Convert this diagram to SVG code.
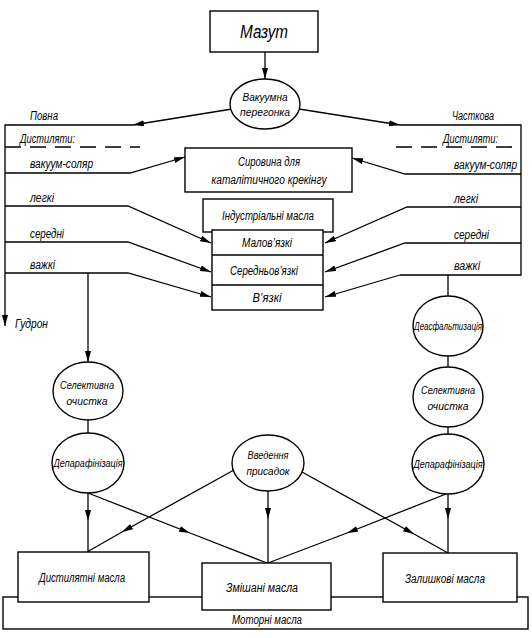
<svg xmlns="http://www.w3.org/2000/svg" width="532" height="638" viewBox="0 0 532 638">
<style>
.ln{fill:none;stroke:#000;stroke-width:1.3}
.bx{fill:#fff;stroke:#000;stroke-width:1.4}
.t{font-family:"Liberation Sans",Arial,sans-serif;font-style:italic;font-size:12px;fill:#000}
.s{font-size:11px}
.c{text-anchor:middle}
.dash{fill:none;stroke:#000;stroke-width:1.6;stroke-dasharray:16 9}
</style>
<defs>
<marker id="ar" markerUnits="userSpaceOnUse" markerWidth="12" markerHeight="8" refX="11" refY="3" orient="auto">
<path d="M0,0 L11,3 L0,6 z" fill="#000"/>
</marker>
</defs>
<rect width="532" height="638" fill="#fff"/>

<g id="connectors">
<line class="ln" x1="265" y1="52" x2="265" y2="79" marker-end="url(#ar)"/>
<polyline class="ln" points="133,125 5,125 5,326" marker-end="url(#ar)"/>
<line class="ln" x1="232" y1="109" x2="133" y2="125" marker-end="url(#ar)"/>
<polyline class="ln" points="400,125 521,125 521,275 400,275"/>
<line class="ln" x1="299" y1="109" x2="400" y2="125" marker-end="url(#ar)"/>
<path class="dash" d="M5,147 H140"/>
<path class="dash" d="M396,147 H521"/>
<polyline class="ln" points="5,173 130,173 185,157" marker-end="url(#ar)"/>
<polyline class="ln" points="5,206 128,206 211,243" marker-end="url(#ar)"/>
<polyline class="ln" points="5,242 128,242 211,272" marker-end="url(#ar)"/>
<polyline class="ln" points="5,273 128,273 211,297" marker-end="url(#ar)"/>
<polyline class="ln" points="521,174 405,174 352,158" marker-end="url(#ar)"/>
<polyline class="ln" points="521,207 407,207 325,243" marker-end="url(#ar)"/>
<polyline class="ln" points="521,243 405,243 325,272" marker-end="url(#ar)"/>
<polyline class="ln" points="400,275 325,297" marker-end="url(#ar)"/>
<line class="ln" x1="88" y1="273" x2="88" y2="362" marker-end="url(#ar)"/>
<line class="ln" x1="88" y1="420" x2="88" y2="433"/>
<line class="ln" x1="448" y1="275" x2="448" y2="296"/>
<line class="ln" x1="448" y1="356" x2="448" y2="367"/>
<line class="ln" x1="448" y1="427" x2="448" y2="434"/>
<polyline class="ln" points="88,493 88,521 88,552" marker-mid="url(#ar)"/>
<polyline class="ln" points="88,493 190,533 267,563" marker-mid="url(#ar)"/>
<polyline class="ln" points="234,470 122,532 87,552" marker-mid="url(#ar)"/>
<polyline class="ln" points="268,491 268,519 268,563" marker-mid="url(#ar)"/>
<polyline class="ln" points="302,472 414,534 448,553" marker-mid="url(#ar)"/>
<polyline class="ln" points="448,494 448,519 448,553" marker-mid="url(#ar)"/>
<polyline class="ln" points="446,494 347,533 268,563" marker-mid="url(#ar)"/>
</g>

<g id="labels">
<text class="t" x="30" y="120" textLength="28" lengthAdjust="spacingAndGlyphs">Повна</text>
<text class="t" x="452" y="120" textLength="42" lengthAdjust="spacingAndGlyphs">Часткова</text>
<text class="t" x="20" y="143" textLength="55" lengthAdjust="spacingAndGlyphs">Дистиляти:</text>
<text class="t" x="443" y="143" textLength="55" lengthAdjust="spacingAndGlyphs">Дистиляти:</text>
<text class="t" x="30" y="168" textLength="63" lengthAdjust="spacingAndGlyphs">вакуум-соляр</text>
<text class="t" x="454" y="169" textLength="63" lengthAdjust="spacingAndGlyphs">вакуум-соляр</text>
<text class="t" x="30" y="202" textLength="24" lengthAdjust="spacingAndGlyphs">легкі</text>
<text class="t" x="454" y="203" textLength="24" lengthAdjust="spacingAndGlyphs">легкі</text>
<text class="t" x="30" y="238" textLength="34" lengthAdjust="spacingAndGlyphs">середні</text>
<text class="t" x="454" y="239" textLength="35" lengthAdjust="spacingAndGlyphs">середні</text>
<text class="t" x="30" y="269" textLength="25" lengthAdjust="spacingAndGlyphs">важкі</text>
<text class="t" x="454" y="270" textLength="26" lengthAdjust="spacingAndGlyphs">важкі</text>
<text class="t" x="15" y="328" textLength="33" lengthAdjust="spacingAndGlyphs">Гудрон</text>
</g>

<g id="mazut">
<rect class="bx" x="210" y="11" width="108" height="41"/>
<text class="t c" x="264" y="38" style="font-size:18px" textLength="48" lengthAdjust="spacingAndGlyphs">Мазут</text>
</g>
<g id="vakuum">
<ellipse class="bx" cx="265" cy="104" rx="35" ry="25"/>
<text class="t c s" x="265" y="101" textLength="45" lengthAdjust="spacingAndGlyphs">Вакуумна</text>
<text class="t c s" x="265" y="116" textLength="50" lengthAdjust="spacingAndGlyphs">перегонка</text>
</g>
<g id="syrovyna">
<rect class="bx" x="185" y="148" width="167" height="44"/>
<text class="t c" x="269" y="166" textLength="62" lengthAdjust="spacingAndGlyphs">Сировина для</text>
<text class="t c" x="269" y="184" textLength="115" lengthAdjust="spacingAndGlyphs">каталітичного крекінгу</text>
</g>
<g id="industrial">
<rect class="bx" x="203" y="199" width="130" height="33"/>
<text class="t c" x="268" y="220" textLength="92" lengthAdjust="spacingAndGlyphs">Індустріальні масла</text>
</g>
<g id="oils">
<rect class="bx" x="212" y="230" width="111" height="80"/>
<line class="ln" x1="212" y1="255" x2="323" y2="255"/>
<line class="ln" x1="212" y1="285" x2="323" y2="285"/>
<text class="t c" x="267" y="247" textLength="50" lengthAdjust="spacingAndGlyphs">Малов’язкі</text>
<text class="t c" x="264" y="275" textLength="68" lengthAdjust="spacingAndGlyphs">Середньов’язкі</text>
<text class="t c" x="267" y="302" textLength="29" lengthAdjust="spacingAndGlyphs">В’язкі</text>
</g>
<g id="selective-left">
<ellipse class="bx" cx="88" cy="391" rx="35" ry="29"/>
<text class="t c s" x="87" y="389" textLength="54" lengthAdjust="spacingAndGlyphs">Селективна</text>
<text class="t c s" x="87" y="405" textLength="41" lengthAdjust="spacingAndGlyphs">очистка</text>
</g>
<g id="deparaf-left">
<ellipse class="bx" cx="88" cy="463" rx="36" ry="30"/>
<text class="t c s" x="88" y="467" textLength="69" lengthAdjust="spacingAndGlyphs">Депарафінізація</text>
</g>
<g id="deasphalt">
<ellipse class="bx" cx="448" cy="326" rx="35" ry="30"/>
<text class="t c s" x="448" y="330" textLength="68" lengthAdjust="spacingAndGlyphs">Деасфальтизація</text>
</g>
<g id="selective-right">
<ellipse class="bx" cx="448" cy="397" rx="35" ry="30"/>
<text class="t c s" x="448" y="394" textLength="54" lengthAdjust="spacingAndGlyphs">Селективна</text>
<text class="t c s" x="448" y="410" textLength="41" lengthAdjust="spacingAndGlyphs">очистка</text>
</g>
<g id="deparaf-right">
<ellipse class="bx" cx="448" cy="464" rx="36" ry="30"/>
<text class="t c s" x="448" y="468" textLength="69" lengthAdjust="spacingAndGlyphs">Депарафінізація</text>
</g>
<g id="vvedennya">
<ellipse class="bx" cx="268" cy="463" rx="36" ry="28"/>
<text class="t c s" x="268" y="459" textLength="41" lengthAdjust="spacingAndGlyphs">Введення</text>
<text class="t c s" x="268" y="475" textLength="43" lengthAdjust="spacingAndGlyphs">присадок</text>
</g>
<g id="motor">
<rect class="bx" x="3" y="597" width="525" height="32"/>
<text class="t c" x="267" y="624" textLength="70" lengthAdjust="spacingAndGlyphs">Моторні масла</text>
</g>
<g id="distillate">
<rect class="bx" x="18" y="552" width="131" height="50"/>
<text class="t c" x="82" y="582" textLength="86" lengthAdjust="spacingAndGlyphs">Дистилятні масла</text>
</g>
<g id="mixed">
<rect class="bx" x="202" y="563" width="129" height="47"/>
<text class="t c" x="262" y="592" textLength="72" lengthAdjust="spacingAndGlyphs">Змішані масла</text>
</g>
<g id="residual">
<rect class="bx" x="383" y="553" width="134" height="49"/>
<text class="t c" x="445" y="583" textLength="80" lengthAdjust="spacingAndGlyphs">Залишкові масла</text>
</g>
</svg>
